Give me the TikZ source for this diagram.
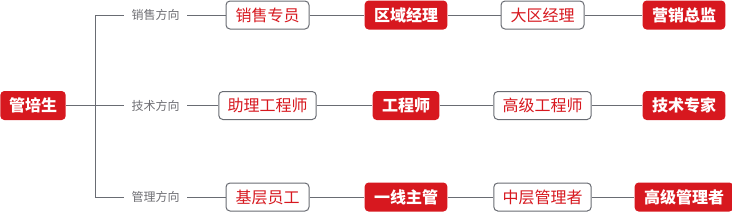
\documentclass[tikz,border=0pt]{standalone}
\usepackage{fontspec}
\setmainfont{Noto Sans CJK SC}
\usepackage{tikz}
\definecolor{brandred}{RGB}{215, 24, 31}
\definecolor{linegray}{RGB}{105, 108, 115}
\definecolor{labelgray}{RGB}{110, 110, 115}

\begin{document}
\begin{tikzpicture}[x=0.75pt, y=-0.75pt,
    solid/.style={fill=brandred, text=white, rounded corners=3pt,
      font=\fontsize{12}{12}\selectfont\bfseries, inner xsep=7pt, minimum height=21.75pt},
    plain/.style={draw=linegray, line width=0.75pt, fill=white, text=brandred, rounded corners=3pt,
      font=\fontsize{12}{12}\selectfont, inner xsep=6.5pt, minimum width=62.25pt, minimum height=21pt},
    tag/.style={text=labelgray, font=\fontsize{9}{9}\selectfont, inner xsep=5.5pt},
    wire/.style={draw=linegray, line width=0.75pt}]
  \useasboundingbox (0,0) rectangle (732,212);
  % Root and trunk
  \node[solid, inner xsep=6.5pt] (root) at (33,105.5) {管培生};
  \coordinate (t1) at (95,15);
  \coordinate (t2) at (95,105.5);
  \coordinate (t3) at (95,197);
  \draw[wire] (t1) -- (t3);
  \draw[wire] (root) -- (t2);
  % Career paths
  \foreach \r/\y/\dir/\first/\second/\third/\top in {
    1/15/销售方向/销售专员/区域经理/大区经理/营销总监,
    2/105.5/技术方向/助理工程师/工程师/高级工程师/技术专家,
    3/197/管理方向/基层员工/一线主管/中层管理者/高级管理者%
  }{
    \node[tag] (lab\r) at (155.5,\y) {\dir};
    \node[plain] (a\r) at (267.5,\y) {\first};
    \node[solid] (b\r) at (406,\y) {\second};
    \node[plain] (c\r) at (542.5,\y) {\third};
    \node[solid] (d\r) at (684,\y) {\top};
    \draw[wire] (t\r) -- (lab\r) (lab\r) -- (a\r) -- (b\r) -- (c\r) -- (d\r);
  }
\end{tikzpicture}
\end{document}
